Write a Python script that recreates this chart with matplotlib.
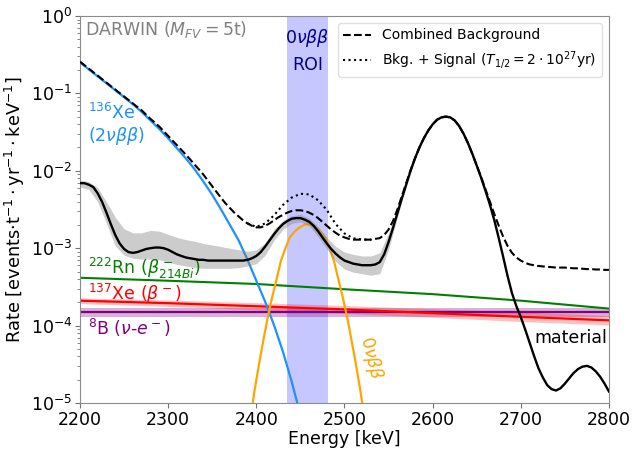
import numpy as np
import matplotlib
matplotlib.use("Agg")
import matplotlib.pyplot as plt

# energy grids [keV]
energy = np.arange(2200, 2801, 5)
energy_2nbb = np.arange(2200, 2451, 10)
energy_band = np.arange(2200, 2571, 10)
energy_dotted = np.arange(2390, 2531, 10)
energy_signal = np.arange(2393, 2524, 5)
energy_flat = [2200, 2300, 2400, 2500, 2600, 2700, 2800]

# 136Xe 2vbb
xe136 = [0.251, 0.204, 0.166, 0.135, 0.110, 0.0891, 0.0724, 0.0575, 0.0447, 0.0347,
         0.0263, 0.0195, 0.0145, 0.0105, 7.24e-3, 4.90e-3, 3.16e-3, 2.00e-3, 1.26e-3,
         7.08e-4, 3.80e-4, 2.04e-4, 1.02e-4, 4.68e-5, 1.91e-5, 7.08e-6]

# material background (5 keV steps)
material = [6.92e-3, 6.92e-3, 6.61e-3, 6.17e-3, 5.13e-3, 3.98e-3, 2.88e-3, 2.04e-3, 1.48e-3, 1.15e-3,
            9.77e-4, 8.91e-4, 8.71e-4, 8.91e-4, 9.33e-4, 9.77e-4, 1.00e-3, 1.02e-3, 1.02e-3, 1.00e-3,
            9.55e-4, 8.91e-4, 8.32e-4, 7.94e-4, 7.59e-4, 7.41e-4, 7.24e-4, 7.08e-4, 7.08e-4, 6.92e-4,
            6.92e-4, 6.92e-4, 6.92e-4, 6.92e-4, 6.92e-4, 6.92e-4, 6.92e-4, 6.92e-4, 7.08e-4, 7.41e-4,
            7.94e-4, 8.91e-4, 1.05e-3, 1.26e-3, 1.51e-3, 1.78e-3, 2.04e-3, 2.24e-3, 2.40e-3, 2.45e-3,
            2.45e-3, 2.34e-3, 2.19e-3, 1.95e-3, 1.66e-3, 1.38e-3, 1.15e-3, 9.77e-4, 8.51e-4, 7.59e-4,
            6.92e-4, 6.61e-4, 6.31e-4, 6.17e-4, 6.03e-4, 6.03e-4, 6.03e-4, 6.17e-4, 6.61e-4, 8.32e-4,
            1.20e-3, 1.82e-3, 2.82e-3, 4.37e-3, 6.61e-3, 1.00e-2, 1.45e-2, 2.00e-2, 2.63e-2, 3.31e-2,
            3.98e-2, 4.57e-2, 4.90e-2, 5.01e-2, 4.90e-2, 4.47e-2, 3.80e-2, 3.02e-2, 2.29e-2, 1.66e-2,
            1.17e-2, 8.13e-3, 5.50e-3, 3.63e-3, 2.29e-3, 1.35e-3, 7.76e-4, 4.37e-4, 2.63e-4, 1.78e-4,
            1.29e-4, 8.91e-5, 6.03e-5, 4.07e-5, 2.82e-5, 2.14e-5, 1.70e-5, 1.51e-5, 1.45e-5, 1.55e-5,
            1.78e-5, 2.09e-5, 2.45e-5, 2.75e-5, 2.95e-5, 3.02e-5, 2.88e-5, 2.57e-5, 2.19e-5, 1.78e-5,
            1.41e-5]
material_low = [6.17e-3, 5.75e-3, 3.98e-3, 2.09e-3, 1.07e-3, 8.13e-4, 7.41e-4, 7.24e-4, 7.24e-4, 7.08e-4,
                6.61e-4, 6.17e-4, 5.89e-4, 5.62e-4, 5.50e-4, 5.50e-4, 5.50e-4, 5.50e-4, 5.62e-4, 5.89e-4,
                6.31e-4, 8.13e-4, 1.26e-3, 1.74e-3, 2.09e-3, 2.19e-3, 1.95e-3, 1.41e-3, 9.77e-4, 6.76e-4,
                5.37e-4, 4.90e-4, 4.68e-4, 4.47e-4, 4.68e-4, 9.55e-4, 2.51e-3, 6.31e-3]
material_high = [7.59e-3, 7.24e-3, 6.03e-3, 3.98e-3, 2.51e-3, 1.78e-3, 1.58e-3, 1.58e-3, 1.70e-3, 1.66e-3,
                 1.51e-3, 1.38e-3, 1.29e-3, 1.23e-3, 1.15e-3, 1.10e-3, 1.05e-3, 1.00e-3, 9.55e-4, 9.12e-4,
                 9.55e-4, 1.17e-3, 1.74e-3, 2.29e-3, 2.63e-3, 2.75e-3, 2.45e-3, 1.91e-3, 1.38e-3, 1.05e-3,
                 8.91e-4, 8.32e-4, 7.94e-4, 7.94e-4, 8.71e-4, 1.58e-3, 3.16e-3, 6.92e-3]

# combined background (dashed, 5 keV steps)
combined = [0.257, 0.232, 0.209, 0.188, 0.170, 0.153, 0.138, 0.124, 0.112, 0.101,
            0.0912, 0.0822, 0.0741, 0.0668, 0.0603, 0.0531, 0.0468, 0.0417, 0.0372, 0.0324,
            0.0282, 0.0245, 0.0214, 0.0186, 0.0162, 0.0140, 0.0120, 0.0104, 8.91e-3, 7.50e-3,
            6.31e-3, 5.31e-3, 4.47e-3, 3.80e-3, 3.31e-3, 2.88e-3, 2.57e-3, 2.29e-3, 2.09e-3, 1.95e-3,
            1.86e-3, 1.86e-3, 1.95e-3, 2.09e-3, 2.29e-3, 2.51e-3, 2.69e-3, 2.88e-3, 3.02e-3, 3.09e-3,
            3.09e-3, 3.02e-3, 2.88e-3, 2.69e-3, 2.45e-3, 2.19e-3, 1.95e-3, 1.74e-3, 1.58e-3, 1.45e-3,
            1.38e-3, 1.32e-3, 1.29e-3, 1.29e-3, 1.29e-3, 1.29e-3, 1.29e-3, 1.32e-3, 1.35e-3, 1.48e-3,
            1.74e-3, 2.24e-3, 3.16e-3, 4.68e-3, 6.92e-3, 1.02e-2, 1.45e-2, 2.00e-2, 2.63e-2, 3.31e-2,
            3.98e-2, 4.57e-2, 4.90e-2, 5.01e-2, 4.90e-2, 4.47e-2, 3.80e-2, 3.02e-2, 2.29e-2, 1.66e-2,
            1.17e-2, 8.32e-3, 5.75e-3, 3.98e-3, 2.75e-3, 1.95e-3, 1.41e-3, 1.07e-3, 8.71e-4, 7.59e-4,
            6.92e-4, 6.46e-4, 6.17e-4, 6.03e-4, 5.89e-4, 5.82e-4, 5.75e-4, 5.69e-4, 5.62e-4, 5.62e-4,
            5.62e-4, 5.56e-4, 5.50e-4, 5.50e-4, 5.43e-4, 5.37e-4, 5.37e-4, 5.31e-4, 5.31e-4, 5.25e-4,
            5.25e-4]

# background + signal (dotted)
bkg_signal = [2.09e-3, 1.88e-3, 2.09e-3, 2.65e-3, 3.60e-3, 4.50e-3, 5.05e-3, 4.95e-3,
              4.17e-3, 3.12e-3, 2.05e-3, 1.55e-3, 1.34e-3, 1.30e-3, 1.29e-3]

# 0vbb signal
signal = [6.03e-6, 1.45e-5, 3.16e-5, 6.46e-5, 1.29e-4, 2.34e-4, 3.98e-4, 6.92e-4, 1.00e-3,
          1.38e-3, 1.62e-3, 1.82e-3, 1.97e-3, 2.04e-3, 1.97e-3, 1.82e-3, 1.62e-3, 1.38e-3,
          1.00e-3, 6.92e-4, 3.98e-4, 2.34e-4, 1.29e-4, 6.46e-5, 3.16e-5, 1.45e-5, 6.03e-6]

# flat-ish backgrounds
rn222 = [4.15e-4, 3.80e-4, 3.45e-4, 2.95e-4, 2.55e-4, 2.10e-4, 1.66e-4]
xe137 = [2.10e-4, 1.95e-4, 1.78e-4, 1.62e-4, 1.45e-4, 1.30e-4, 1.17e-4]
xe137_low = [1.93e-4, 1.77e-4, 1.60e-4, 1.44e-4, 1.28e-4, 1.13e-4, 1.02e-4]
xe137_high = [2.28e-4, 2.14e-4, 1.98e-4, 1.82e-4, 1.65e-4, 1.50e-4, 1.35e-4]
b8 = [1.50e-4] * 7
b8_low = [1.30e-4] * 7
b8_high = [1.70e-4] * 7

roi = (2435, 2481)

fig = plt.figure(figsize=(6.33, 4.49), dpi=100)
ax = fig.add_axes([0.1264, 0.1024, 0.8356, 0.862])

ax.axvspan(roi[0], roi[1], color='blue', alpha=0.22, lw=0, zorder=0)

ax.fill_between(energy_flat, b8_low, b8_high, color='purple', alpha=0.3, lw=0, zorder=1)
ax.fill_between(energy_flat, xe137_low, xe137_high, color='red', alpha=0.25, lw=0, zorder=1)
ax.plot(energy_flat, b8, color='purple', lw=1.6, zorder=2)
ax.plot(energy_flat, xe137, color='red', lw=1.6, zorder=2)
ax.plot(energy_flat, rn222, color='green', lw=1.5, zorder=2)

ax.plot(energy_2nbb, xe136, color='dodgerblue', lw=1.6, zorder=3)
ax.plot(energy_signal, signal, color='orange', lw=1.6, zorder=3)

ax.fill_between(energy_band, material_low, material_high, color='gray', alpha=0.4, lw=0, zorder=3)
ax.plot(energy, material, color='black', lw=1.7, zorder=4)
ax.plot(energy, combined, color='black', ls='--', lw=1.5, zorder=5, label='Combined Background')
ax.plot(energy_dotted, bkg_signal, color='black', ls=':', lw=1.5, zorder=5,
        label=r'Bkg. + Signal ($T_{1/2} = 2\cdot10^{27}$yr)')

ax.set_yscale('log')
ax.set_xlim(2200, 2800)
ax.set_ylim(1e-5, 1)
ax.set_xticks([2200, 2300, 2400, 2500, 2600, 2700, 2800])
ax.tick_params(labelsize=12.5, colors='black', pad=2)
ax.tick_params(which='both', color='0.45')
for sp in ax.spines.values():
    sp.set_color('0.55')

ax.set_xlabel('Energy [keV]', fontsize=12.5, labelpad=1)
ax.set_ylabel(r'Rate [events$\cdot$t$^{-1}\cdot$yr$^{-1}\cdot$keV$^{-1}$]', fontsize=12.8, labelpad=3)

ax.text(2206, 0.66, r'DARWIN ($M_{FV} = 5$t)', color='gray', fontsize=12.5, va='center')
ax.text(2458, 0.36, '0$\\nu\\beta\\beta$\nROI', color='darkblue', fontsize=12.5,
        ha='center', va='center', linespacing=1.5)
ax.text(2209, 0.039, '$^{136}$Xe\n($2\\nu\\beta\\beta$)', color='dodgerblue', fontsize=12.5,
        va='center', linespacing=1.15)
ax.text(2209, 5.5e-4, r'$^{222}$Rn ($\beta^-_{214Bi}$)', color='green', fontsize=12.5, va='center')
ax.text(2209, 2.55e-4, r'$^{137}$Xe ($\beta^-$)', color='red', fontsize=12.5, va='center')
ax.text(2209, 9.3e-5, r'$^{8}$B ($\nu$-$e^-$)', color='purple', fontsize=12.5, va='center')
ax.text(2798, 6.9e-5, 'material', color='black', fontsize=12.5, ha='right', va='center')
ax.text(2530, 3.8e-5, r'0$\nu\beta\beta$', color='orange', fontsize=12.5,
        ha='center', va='center', rotation=-76)

ax.legend(loc='upper right', fontsize=10, frameon=True, edgecolor='0.85')

fig.savefig('out.png', dpi=100)
